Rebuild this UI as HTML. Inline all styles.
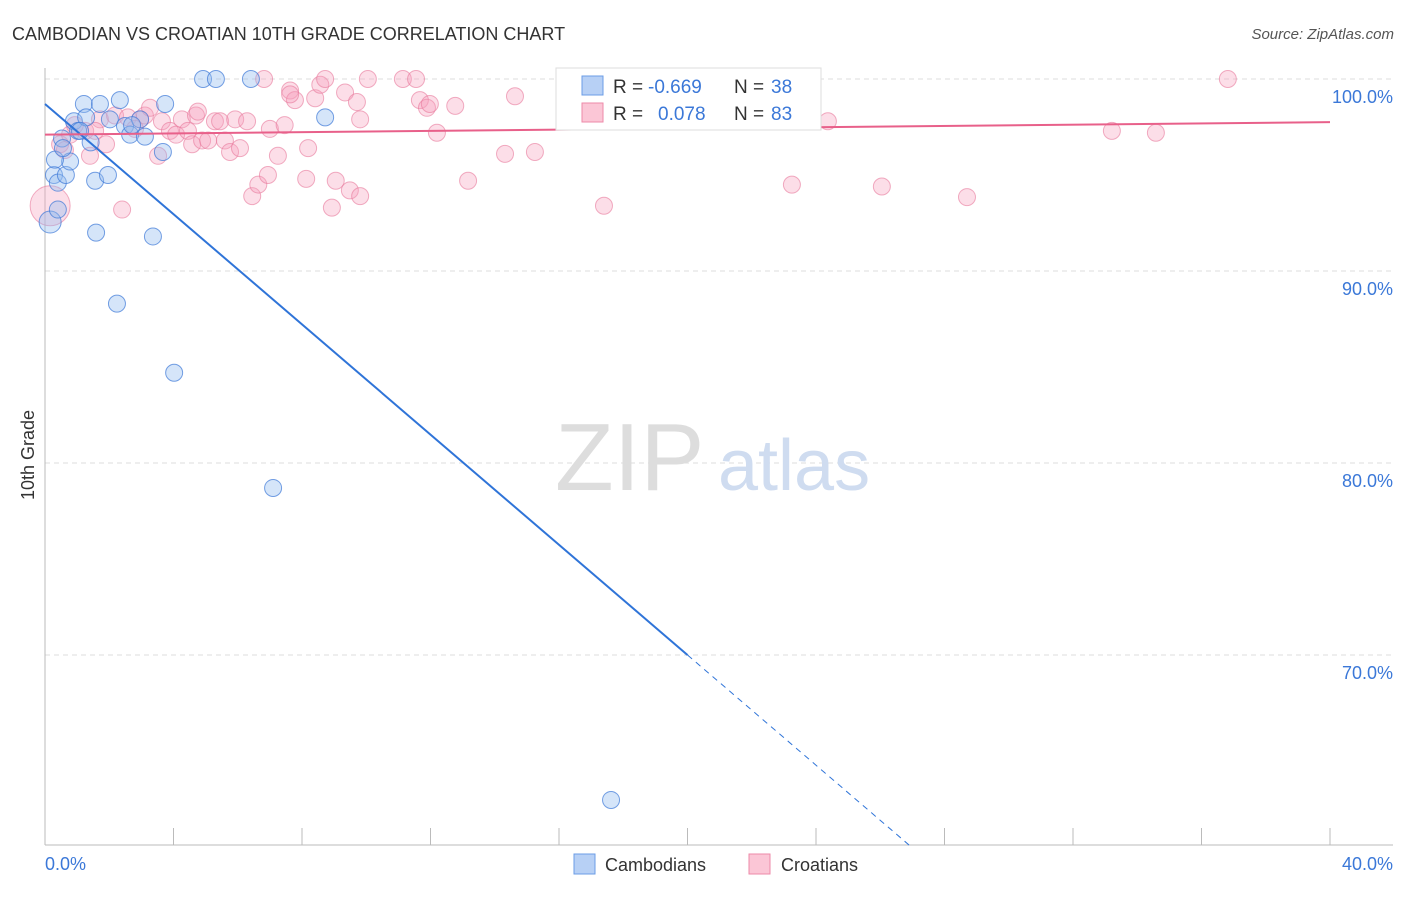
<!DOCTYPE html>
<html><head><meta charset="utf-8"><style>
body{margin:0;background:#fff;font-family:"Liberation Sans",sans-serif}
svg text{font-family:"Liberation Sans",sans-serif}
</style></head><body>
<svg id="chart" width="1406" height="892" xmlns="http://www.w3.org/2000/svg">
<text x="12" y="40" font-size="18" fill="#333">CAMBODIAN VS CROATIAN 10TH GRADE CORRELATION CHART</text>
<text x="1394" y="39" font-size="15" fill="#555" font-style="italic" text-anchor="end">Source: ZipAtlas.com</text>
<g id="grid"></g>
<g><text x="555" y="490" font-size="96" fill="#ddd" font-family="Liberation Serif">ZIP</text><text x="718" y="490" font-size="72" fill="#cfdcf0">atlas</text></g>
<g id="pts-pink"></g>
<g id="pts-blue"></g>
<g id="lines"></g>
<text x="34" y="455" font-size="18" fill="#333" transform="rotate(-90 34 455)" text-anchor="middle">10th Grade</text>
<text x="45" y="870" font-size="18" fill="#3b78d8">0.0%</text>
<text x="1393" y="870" font-size="18" fill="#3b78d8" text-anchor="end">40.0%</text>
<g>
<rect x="556" y="68" width="265" height="62" fill="#fff" stroke="#ddd"/>
<rect x="582" y="76" width="21" height="19" fill="#b7d0f5" stroke="#6b9ce6"/>
<rect x="582" y="103" width="21" height="19" fill="#fbc6d6" stroke="#ee8aa8"/>
<text x="613" y="93" font-size="19" fill="#333">R = </text><text x="648" y="93" font-size="19" fill="#3b78d8">-0.669</text>
<text x="734" y="93" font-size="19" fill="#333">N = </text><text x="771" y="93" font-size="19" fill="#3b78d8">38</text>
<text x="613" y="120" font-size="19" fill="#333">R = </text><text x="658" y="120" font-size="19" fill="#3b78d8">0.078</text>
<text x="734" y="120" font-size="19" fill="#333">N = </text><text x="771" y="120" font-size="19" fill="#3b78d8">83</text>
</g>
<g>
<rect x="574" y="854" width="21" height="20" fill="#b7d0f5" stroke="#6b9ce6"/>
<text x="605" y="871" font-size="18" fill="#333">Cambodians</text>
<rect x="749" y="854" width="21" height="20" fill="#fbc6d6" stroke="#ee8aa8"/>
<text x="781" y="871" font-size="18" fill="#333">Croatians</text>
</g>
</svg>
<script>
const yTicks=[100,90,80,70];
const yTickLabels=["100.0%","90.0%","80.0%","70.0%"];
const xTicks=[0,4,8,12,16,20,24,28,32,36,40];
const blueX=[0.16,0.28,0.4,0.53,0.65,0.78,0.9,1.03,1.21,1.28,1.42,1.56,1.59,1.71,2.02,1.96,2.24,2.33,2.49,2.65,2.96,3.11,3.36,3.67,3.74,4.02,4.92,5.32,6.41,7.1,8.72,17.62,0.31,0.56,1.09,2.71,0.4];
const blueY=[92.55,95.0,94.6,96.9,95.0,95.7,97.8,97.3,98.7,98.0,96.7,94.7,92.0,98.7,97.9,95.0,88.3,98.9,97.55,97.1,97.9,97.0,91.8,96.2,98.7,84.7,100,100,100,78.7,98.0,62.45,95.8,96.4,97.3,97.6,93.2];
const pinkX=[0.16,0.47,0.78,1.25,1.4,1.71,1.9,2.18,2.4,2.58,2.96,3.11,3.27,3.52,3.64,3.89,4.08,4.26,4.45,4.58,4.7,4.89,5.08,5.29,5.45,5.6,5.76,5.92,6.07,6.29,6.45,6.64,6.82,6.94,7.0,7.25,7.46,7.63,7.78,8.13,8.19,8.41,8.57,8.72,8.93,9.05,9.34,9.49,9.71,9.81,10.05,11.14,11.55,11.67,11.89,12.2,12.77,13.17,14.32,14.63,15.25,16.65,17.4,17.96,22.26,23.25,24.37,26.05,28.7,33.21,34.58,36.82,0.62,0.93,1.56,2.8,4.76,7.63,9.81,11.98];
const pinkY=[93.4,96.6,97.1,97.3,96.0,97.9,96.6,98.1,93.2,98.0,97.9,98.1,98.5,96.0,97.8,97.3,97.1,97.9,97.3,96.6,98.1,96.8,96.8,97.8,97.8,96.8,96.2,97.9,96.4,97.8,93.9,94.5,100,95.0,97.4,96.0,97.6,99.4,98.9,94.8,96.4,99.0,99.7,100,93.3,94.7,99.3,94.2,98.8,93.9,100,100,100,98.9,98.5,97.2,98.6,94.7,96.1,99.1,96.2,98.9,93.4,100,100,94.5,97.8,94.4,93.85,97.3,97.2,100,96.3,97.6,97.3,97.4,98.3,99.2,97.9,98.7];
const blueTrend=[98.7,-1.435];
const pinkTrend=[97.1,0.0163];
const X=v=>45+v*32.125, Y=v=>79+(100-v)*19.2;
const NS="http://www.w3.org/2000/svg";
function mk(t,a,p){const e=document.createElementNS(NS,t);for(const k in a)e.setAttribute(k,a[k]);p.appendChild(e);return e;}
const g=document.getElementById('grid');
yTicks.forEach((t,i)=>{
 const l=mk('line',{x1:45,x2:1393,y1:Y(t),y2:Y(t),stroke:'#ddd','stroke-dasharray':'5,4'},g);
 
 
 const tx=mk('text',{x:1393,y:Y(t)+24,'font-size':18,fill:'#3b78d8','text-anchor':'end'},g);
 tx.textContent=yTickLabels[i];
 
 
});
const ax=mk('line',{x1:45,x2:45,y1:68,y2:845,stroke:'#bbb'},g);


const bx=mk('line',{x1:45,x2:1393,y1:845,y2:845,stroke:'#bbb'},g);


xTicks.forEach(t=>{const l=mk('line',{x1:X(t),x2:X(t),y1:828,y2:845,stroke:'#bbb'},g);
 
 });
const pp=document.getElementById('pts-pink');
pinkX.forEach((x,i)=>{const c=mk('circle',{cx:X(x),cy:Y(pinkY[i]),r:i==0?20:8.5,fill:'rgba(246,160,188,0.35)',stroke:'rgba(232,120,155,0.6)'},pp);
 
 });
const bp=document.getElementById('pts-blue');
blueX.forEach((x,i)=>{const c=mk('circle',{cx:X(x),cy:Y(blueY[i]),r:i==0?11:8.5,fill:'rgba(150,190,240,0.4)',stroke:'rgba(60,120,215,0.7)'},bp);
 
 });
const ln=document.getElementById('lines');
const bf=x=>blueTrend[0]+blueTrend[1]*x;
let l1=mk('line',{x1:X(0),y1:Y(bf(0)),x2:X(20),y2:Y(bf(20)),stroke:'#2f74d8','stroke-width':2},ln);


const xe=(60.1-blueTrend[0])/blueTrend[1];
let l2=mk('line',{x1:X(20),y1:Y(bf(20)),x2:X(xe),y2:Y(bf(xe)),stroke:'#2f74d8','stroke-width':1,'stroke-dasharray':'6,5'},ln);


const pf=x=>pinkTrend[0]+pinkTrend[1]*x;
let l3=mk('line',{x1:X(0),y1:Y(pf(0)),x2:X(40),y2:Y(pf(40)),stroke:'#e8608a','stroke-width':2},ln);


</script>
</body></html>
